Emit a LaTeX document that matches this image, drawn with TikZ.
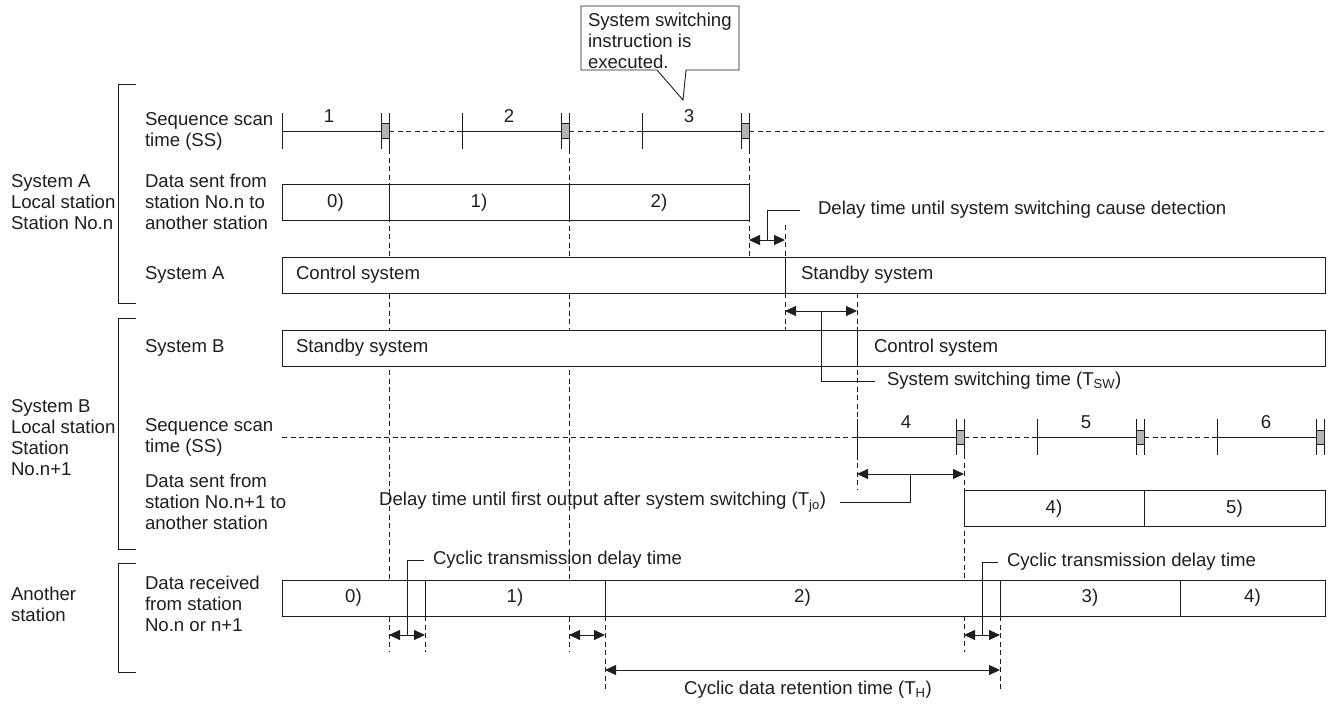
\documentclass[tikz,border=0pt]{standalone}
\usepackage{fontspec}
\setmainfont{Liberation Sans}
\usetikzlibrary{arrows.meta,calc}
\definecolor{ink}{HTML}{1E1E1E}
\definecolor{scangray}{HTML}{B4B4B4}
\begin{document}
\begin{tikzpicture}[x=1pt,y=-1pt,
  every node/.style={inner sep=0pt,outer sep=0pt,font=\fontsize{18.6}{21}\selectfont,text=ink},
  lbl/.style={anchor=west,align=left},
  cell/.style={draw=ink,fill=white,line width=0.9pt,minimum height=36pt,anchor=west},
  tk/.style={draw=ink,line width=0.9pt},
  dsh/.style={draw=ink,line width=0.8pt,dash pattern=on 5pt off 3.5pt},
  lead/.style={draw=ink,line width=0.8pt},
  dimarr/.style={draw=ink,line width=0.9pt,{Triangle[length=11pt,width=10pt]}-{Triangle[length=11pt,width=10pt]}},
  brk/.style={draw=ink,line width=0.9pt}
]
\useasboundingbox (0,0) rectangle (1334,709);

% guide lines (behind the bars)
\draw[dsh] (389,149) -- (389,652);
\draw[dsh] (569,149) -- (569,652);
\draw[dsh] (749,149) -- (749,257);
\draw[dsh] (785,225) -- (785,330);
\draw[dsh] (857,293) -- (857,490);
\draw[dsh] (964,454) -- (964,652);
\draw[dsh] (425,616) -- (425,652);
\draw[dsh] (605,616) -- (605,690);
\draw[dsh] (1000,616) -- (1000,690);

% brackets and row labels
\draw[brk] (136,84) -- (118,84) -- (118,303) -- (136,303);
\draw[brk] (136,318) -- (118,318) -- (118,549) -- (136,549);
\draw[brk] (136,563) -- (118,563) -- (118,672) -- (136,672);
\node[lbl] (grpA) at (11,202) {System A\\Local station\\Station No.n};
\node[lbl] (grpB) at (11,438) {System B\\Local station\\Station\\No.n+1};
\node[lbl] (grpC) at (11,604) {Another\\station};
\node[lbl] (rowSSA) at (145,131) {Sequence scan\\time (SS)};
\node[lbl] (rowTxA) at (145,202) {Data sent from\\station No.n to\\another station};
\node[lbl] (rowSysA) at (145,275) {System A};
\node[lbl] (rowSysB) at (145,348) {System B};
\node[lbl] (rowSSB) at (145,437) {Sequence scan\\time (SS)};
\node[lbl] (rowTxB) at (145,502) {Data sent from\\station No.n+1 to\\another station};
\node[lbl] (rowRx) at (145,604) {Data received\\from station\\No.n or n+1};

% sequence scans, system A
\foreach \s/\n in {282/1,462/2,642/3} {
  \draw[tk] (\s,113) -- (\s,149);
  \draw[tk] (\s,131) -- (\s+99,131);
  \draw[tk,fill=scangray] (\s+99,123) rectangle (\s+107,138);
  \draw[tk] (\s+99,113) -- (\s+99,149) (\s+107,113) -- (\s+107,149);
  \node (scan\n) at (\s+47,116) {\n};
}
\draw[dsh] (389,131) -- (462,131) (569,131) -- (642,131) (749,131) -- (1325,131);

% sequence scans, system B
\foreach \s/\n in {857/4,1037/5,1217/6} {
  \draw[tk] (\s,419) -- (\s,455);
  \draw[tk] (\s,437) -- (\s+99,437);
  \draw[tk,fill=scangray] (\s+99,430) rectangle (\s+107,444);
  \draw[tk] (\s+99,419) -- (\s+99,455) (\s+107,419) -- (\s+107,455);
  \node (scan\n) at (\s+49,422) {\n};
}
\draw[dsh] (282,437) -- (857,437) (964,437) -- (1037,437) (1144,437) -- (1217,437);

% data sent from station No.n
\node[cell,minimum width=107pt] (txA0) at (282,202.5) {0)};
\node[cell,minimum width=180pt] (txA1) at (txA0.east) {1)};
\node[cell,minimum width=180pt] (txA2) at (txA1.east) {2)};

% system A / system B
\node[cell,minimum width=503pt] (sysA1) at (282,275) {};
\node[cell,minimum width=540pt] (sysA2) at (sysA1.east) {};
\node[lbl] at ([xshift=14pt]sysA1.west) {Control system};
\node[lbl] at ([xshift=16pt]sysA2.west) {Standby system};
\node[cell,minimum width=575pt] (sysB1) at (282,348) {};
\node[cell,minimum width=468pt] (sysB2) at (sysB1.east) {};
\node[lbl] at ([xshift=14pt]sysB1.west) {Standby system};
\node[lbl] at ([xshift=17pt]sysB2.west) {Control system};

% data sent from station No.n+1
\node[cell,minimum width=180pt] (txB4) at (964,508.5) {4)};
\node[cell,minimum width=181pt] (txB5) at (txB4.east) {5)};

% data received by another station
\node[cell,minimum width=143pt] (rx0) at (282,598) {0)};
\node[cell,minimum width=180pt] (rx1) at (rx0.east) {1)};
\node[cell,minimum width=395pt] (rx2) at (rx1.east) {2)};
\node[cell,minimum width=180pt] (rx3) at (rx2.east) {3)};
\node[cell,minimum width=145pt] (rx4) at (rx3.east) {4)};

% callout
\draw[tk,fill=white] (581,6) -- (739,6) -- (739,70) -- (686,70) -- (683,100) -- (657,70) -- (581,70) -- cycle;
\node[lbl] (note) at (588,41) {System switching\\instruction is\\executed.};

% time spans
\coordinate (det1) at (749,240);  \coordinate (det2) at (785,240);
\coordinate (sw1) at (785,311);   \coordinate (sw2) at (857,311);
\coordinate (jo1) at (857,474);   \coordinate (jo2) at (964,474);
\coordinate (cy1) at (389,635);   \coordinate (cy2) at (425,635);
\coordinate (cy3) at (569,635);   \coordinate (cy4) at (605,635);
\coordinate (cy5) at (964,635);   \coordinate (cy6) at (1000,635);
\coordinate (ret1) at (605,670);  \coordinate (ret2) at (1000,670);
\draw[dimarr] (det1) -- (det2);
\draw[dimarr] (sw1) -- (sw2);
\draw[dimarr] (jo1) -- (jo2);
\draw[dimarr] (cy1) -- (cy2);
\draw[dimarr] (cy3) -- (cy4);
\draw[dimarr] (cy5) -- (cy6);
\draw[dimarr] (ret1) -- (ret2);

% span labels with leaders
\node[lbl] (detTxt) at (818,210) {Delay time until system switching cause detection};
\draw[lead] ($(det1)!0.5!(det2)$) |- ([xshift=-18pt]detTxt.west);
\node[lbl] (swTxt) at (887,381) {System switching time (T\textsubscript{SW})};
\draw[lead] ($(sw1)!0.5!(sw2)$) |- ([xshift=-12pt]swTxt.west);
\node[anchor=east] (joTxt) at (826,502) {Delay time until first output after system switching (T\textsubscript{jo})};
\draw[lead] ($(jo1)!0.5!(jo2)$) |- ([xshift=14pt]joTxt.east);
\node[lbl] (cyTxtA) at (433,560) {Cyclic transmission delay time};
\draw[lead] ($(cy1)!0.5!(cy2)$) |- ([xshift=-9pt]cyTxtA.west);
\node[lbl] (cyTxtB) at (1007,562) {Cyclic transmission delay time};
\draw[lead] ($(cy5)!0.5!(cy6)$) |- ([xshift=-9pt]cyTxtB.west);
\node (retTxt) at (808,690) {Cyclic data retention time (T\textsubscript{H})};
\end{tikzpicture}
\end{document}
